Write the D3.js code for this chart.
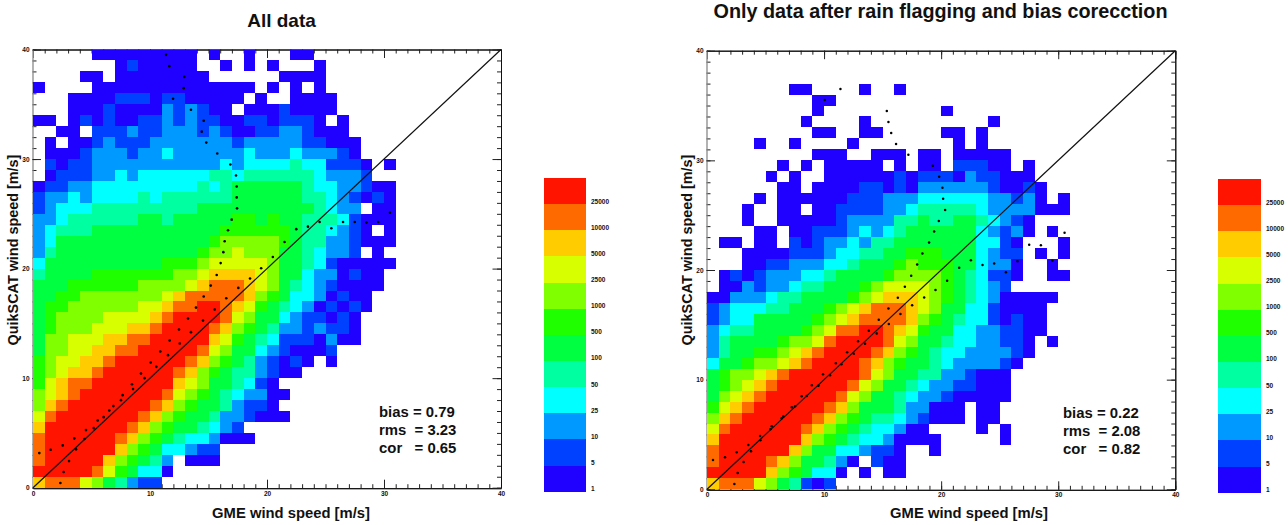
<!DOCTYPE html>
<html>
<head>
<meta charset="utf-8">
<script src="https://cdn.jsdelivr.net/npm/d3@7"></script>
<style>
body{margin:0;background:#fff;}
svg{display:block;}
text{font-family:"Liberation Sans",Arial,sans-serif;fill:#111;}
</style>
</head>
<body>
<div id="chart"></div>
<script>
// colour classes: lower bound of each class, and its colour
var classFloors=[1,5,10,25,50,100,500,1000,2500,5000,10000,25000];
var classColors=["#2000ff","#0040ff","#0099ff","#00ffff","#00ffa0","#00ff40","#20ff00","#80ff00","#d8ff00","#ffcc00","#ff6a00","#ff1400"];

// histogram rows, top row (39-40 m/s) first, one digit per 1 m/s GME bin
// digit = class index +1 (0 empty, a=10, b=11, c=12), blanks only for reading
var allRows=[
"00000 111111111 0 1 00 1 000 11",
"0000000 1 2 11111 00 1 0 1 0 1 000 1",
"0000 11 0 11111111 000000 1111",
"1 0000 11111111111111 0 1 0 1 0 1",
"000 1111 222 1 22 11111 0 1 00 1111",
"000 111 2 1111 3 2 3 2 11 0 111 2 1111",
"11 0 1 2 1 2 11 22 3 2 3 22 11 22 1 222 1 0 1",
"00 11 0 222 3 22 333 2 3 2 11 22 33 2 111",
"0 1 0 11 2 3 222 3333333 2 33333 22 111",
"0 111 2 333 2 33 4 333333 4 333 4 333 2 1",
"0 2 1 22 33333333333 4 3 4444 5 44 222 1 0 1",
"0 1 222 33 4 3 444444 55 4 555555 4 333 2",
"1 22 33 444444444 5 4 5 666666 5 44 33 2 11",
"2 33 4 3 4444 5 4 555555 666666 55 4 3 2 1 2 1",
"2 3 444 555555555 6666666666 5 4 33 0 11",
"33 4 555555 66 5 66666 77 6 7 66 555 4 2 111",
"3 4 555 66666666666 777777 6 55 4 3 2 1 0 1",
"3 4 6666666666666 7 88888 7 6 55 33 2 111",
"3 5 666666666666 7 88 9 888 66 5 4 33 2 0 1",
"4 6666666666 777 8 99999 8 66 5 4 2 11111",
"5 6666 7777777 88 9 aaaa 9 8 66 4 33 1 2 11",
"666 777777 8888 9 a bbb a 9 8 6 5 4 3 2 1111",
"66 77 8888888 9 a bbbbb a 8 7 6 44 3 1 2 11",
"6 77 888888 99 a bb cc b a 9 7 6 5 4 3 1 2 1 2 1",
"6 7 8888 9999 a b cccc b 9 8 66 4 3 22 1 2 1",
"6 7 888 999 aa b cccc b a 8 7 6 5 33 2 3 22 1",
"6 88 999 aa bb ccccc a 9 7 6 5 4 222 1 3 11",
"6 88 99 aa bb ccccc b 9 8 66 4 3 2 111 2",
"7 8 99 aa b cccccc b a 8 7 6 5 3 2 1 2 1 0 1",
"7 8 9 aa b cccccc b a 8 7 6 55 3 2 11",
"7 9 a bb ccccccc a 9 8 66 5 4 2 1",
"8 9 a b ccccccc b 9 8 7 6 5 4 33 11",
"8 a b ccccccc b a 8 7 66 5 3 22 1",
"9 b ccccccc b a 8 7 66 5 33 2 111",
"a ccccccc b a 8 7 66 5 4 3 2",
"b cccccc b a 8 7 6 5 44 3 111",
"b cccccc a 8 7 6 44 3 22",
"b ccccc a 8 7 6 5 3 0 111",
"ccccc b 9 7 6 44 1",
"a bbb 9 8 6 5 3 22"
];

var flaggedRows=[
"",
"",
"",
"0000000 11 0000 1 00 1",
"000000000 11",
"000000000 1 0000000000 1",
"00000000 1 0000 1 0000000000 1",
"000000000 11 00 11 00000 11 0 1",
"0000 1 00 1 0000 1 00000000 1 0 1",
"000000000 111 00 111 0 11 0 11111",
"000000 1 0 1 0 11111 0 1 0 11 0 222 11 0 1",
"00000 1 0 1 00 111111 2 1 222 1 3 22 111",
"000000 11 0 1111 22 1 2 1 333333 2 11 2 1",
"0000 1 0 111111 222 333 444444 33 2 3 1 0 1",
"000 1 00 11 0 11 2222 33 4 55555 4 3333 111",
"000 1 00 11111 2 3333 55 6 55 66 5 4 3 2 1",
"0000 11 0 11 222 3 4 3 4 5 666666 4 3 2 3 1 0 1",
"0 11 0 11 0 2 1 2 33 4 3 55 6666666 44 2 1 000 1",
"000 1111 222 3 44 55 66 777 666 4 3 22 0 1 0 1",
"000 11 22 333 44 5 666 7 8 777 66 4 33 1 00 1",
"0 1 2 1 2 333 44 5 6666 7 8888 7 6 5 4 22 1 00 11",
"0 11 3 2 33 4 55 666 7 8 9999 8 7 6 5 4 3 2",
"11 333 4 55 6666 7 8 9 aaa 9 8 7 6 5 4 3 11111",
"2 3 444 55 666 7 8 9 a bbb a 9 8 66 44 2 1111",
"2 3 44 66666 7 8 9 a bbbb a 8 7 6 5 44 2 1 2 11",
"3 4 55 6666 7 8 9 bb cc b a 9 7 66 44 33 22 11",
"3 5 6666 7 88 9 b cccc b 9 8 66 5 44 33 22 1 0 1",
"3 5 66 77 8 9 a b cccc b a 8 7 6 5 44 3333 2 1",
"4 66 7 88 9 a b cccc b a 8 7 66 5 4 3333 2 1",
"6 7 88 9 a b cccccc b 9 8 66 55 33 2 111",
"6 7 8 9 a b cccccc b 9 8 66 5 4 33 22 111",
"6 8 9 a b cccccc b 9 8 66 5 4 33 2 11111",
"7 9 a b cccccc b a 8 666 5 33 111 0 11",
"8 a b cccccc b a 8 7 6 55 4 3 2 111 0 11",
"9 b cccccc b a 8 7 6 5 44 3 11 0000 1 0 1",
"a ccccccc a 8 7 6 5 44 3 1111 00000 1",
"b cccccc a 8 66 44 3 22 1 00 1",
"b cccc b a 8 66 5 3 1 0 2 11",
"ccccc a 8 7 6 44 1 0 1 0 11",
"a bbb 9 8 6 5 2 1 2"
];

// mean points, [GME, QuikSCAT]
var allMeans=[[11.37,39.51],[11.65,38.48],[12.93,37.5],[12.88,36.47],[11.97,35.5],[13.5,34.5],[14.59,33.5],[14.42,32.5],[14.81,31.5],[15.75,30.5],[16.87,29.5],[17.35,28.5],[17.41,27.5],[17.41,26.5],[17.44,25.5],[16.98,24.47],[16.67,23.5],[16.38,22.5],[16.27,21.5],[16.04,20.5],[30.51,25.1],[29.5,24.25],[28.5,24.2],[27.5,24.25],[26.5,24.25],[25.5,23.68],[24.5,24.25],[23.5,23.83],[22.5,23.6],[21.5,22.43],[20.5,21.06],[19.5,20.03],[15.7,19.42],[18.55,19.09],[15.19,18.45],[17.55,18.24],[14.59,17.45],[16.52,17.29],[13.93,16.44],[15.53,16.26],[13.25,15.44],[14.53,15.26],[12.48,14.44],[13.5,14.2],[11.68,13.43],[12.54,13.16],[10.88,12.43],[11.54,12.1],[10.06,11.43],[10.54,11.03],[9.23,10.43],[9.54,10.0],[8.46,9.45],[8.55,9.0],[7.66,8.45],[7.52,7.99],[6.87,7.45],[6.52,7.05],[6.04,6.44],[5.53,6.14],[4.53,5.26],[5.19,5.44],[3.53,4.5],[4.39,4.44],[2.54,3.86],[3.68,3.5],[1.51,3.47],[0.54,3.16],[3.08,2.43],[2.62,1.43],[2.34,0.43]];
var flaggedMeans=[[11.4,36.5],[10.06,35.5],[15.36,34.5],[15.5,33.5],[15.73,32.5],[16.15,31.5],[17.2,30.5],[19.29,29.5],[19.83,28.5],[20.11,27.5],[20.17,26.5],[20.34,25.47],[19.8,24.47],[19.4,23.5],[18.97,22.5],[18.4,21.5],[17.95,20.5],[30.54,23.4],[28.52,22.25],[27.52,22.3],[29.5,20.85],[26.52,20.8],[25.53,19.8],[24.53,20.6],[23.53,20.46],[22.54,20.9],[21.54,20.2],[20.51,19.03],[19.52,18.18],[17.44,19.48],[16.9,18.48],[18.55,17.5],[16.3,17.48],[17.52,16.78],[15.5,16.5],[16.52,15.99],[14.67,15.47],[15.53,15.08],[13.82,14.47],[14.5,14.22],[12.9,13.5],[13.5,13.28],[11.97,12.49],[12.54,12.37],[11.0,11.49],[11.48,11.4],[9.91,10.49],[10.51,10.4],[8.95,9.48],[9.52,9.45],[8.09,8.48],[8.52,8.51],[7.24,7.48],[7.52,7.57],[6.38,6.47],[6.52,6.63],[5.53,5.74],[5.41,5.47],[4.53,4.86],[4.56,4.47],[3.53,4.04],[3.76,3.47],[2.54,3.37],[1.54,2.92],[0.51,2.67],[3.13,2.49],[2.62,1.49],[2.34,0.49]];

var allStats=["bias = 0.79","rms  = 3.23","cor   = 0.65"];
var flaggedStats=["bias = 0.22","rms  = 2.08","cor   = 0.82"];

var majorTicks=d3.range(0,41,10);
var minorTicks=d3.range(0,41,1);

var canvas=d3.select("#chart").append("svg")
  .attr("width",1288)
  .attr("height",525);

var color=d3.scaleThreshold()
  .domain(classFloors)
  .range(["#ffffff"].concat(classColors));

function readRows(rows){
  var cells=[];
  rows.forEach(function(row,i){
    row.replace(/ /g,"").split("").forEach(function(ch,c){
      var idx=parseInt(ch,16);
      if(idx>0) cells.push({gme:c, scat:39-i, count:classFloors[idx-1]});
    });
  });
  return cells;
}

function drawPanel(p){
  var xScale=d3.scaleLinear().domain([0,40]).range([p.x0,p.x1]);
  var yScale=d3.scaleLinear().domain([0,40]).range([p.y0,p.y1]);
  var g=canvas.append("g");

  /*axes first: the cells cover the ticks. Ticks point inwards on all four sides*/
  function addAxis(axis,tx,ty,labelled,spine){
    var w=g.append("g").attr("transform","translate("+tx+","+ty+")");
    w.call(axis.tickValues(minorTicks).tickSize(-4).tickSizeOuter(0).tickFormat(""));
    var m=g.append("g").attr("transform","translate("+tx+","+ty+")");
    m.call(axis.tickValues(majorTicks).tickSize(-8.5).tickSizeOuter(0).tickPadding(labelled?3:0).tickFormat(labelled?d3.format("d"):""));
    m.selectAll("text").style("font-size","6.5px").style("font-family","'Liberation Sans'").style("font-weight","bold");
    w.select(".domain").attr("stroke",spine);
    m.select(".domain").attr("stroke",spine);
    g.selectAll(".tick line").attr("stroke","#222");
  }
  addAxis(d3.axisBottom(xScale),0,p.y0+0.5,true,"#111");
  addAxis(d3.axisTop(xScale),0,p.y1,false,"#111");
  addAxis(d3.axisLeft(yScale),p.x0-0.5,0,true,"#999");
  addAxis(d3.axisRight(yScale),p.x1,0,false,"#111");

  /*histogram cells*/
  g.append("g").selectAll("rect")
    .data(readRows(p.rows))
    .join("rect")
    .attr("x",function(d){return xScale(d.gme);})
    .attr("y",function(d){return yScale(d.scat+1);})
    .attr("width",xScale(1)-xScale(0))
    .attr("height",yScale(0)-yScale(1))
    .attr("fill",function(d){return color(d.count);})
    .attr("shape-rendering","crispEdges");

  /*one to one line*/
  var diag=d3.line()
    .x(function(d){return xScale(d);})
    .y(function(d){return yScale(d);});
  g.append("path")
    .attr("d",diag([0,40]))
    .attr("fill","none")
    .attr("stroke","#111")
    .attr("stroke-width",1.2);

  /*means*/
  g.append("g").selectAll("circle")
    .data(p.means)
    .join("circle")
    .attr("cx",function(d){return xScale(d[0]);})
    .attr("cy",function(d){return yScale(d[1]);})
    .attr("r",p.dot)
    .attr("fill","#000");

  /*titles*/
  g.append("text")
    .text(p.title)
    .attr("x",p.titleX)
    .attr("y",p.titleY)
    .attr("text-anchor","middle")
    .style("font-size",p.titleSize+"px")
    .style("font-weight","bold");
  g.append("text")
    .text("GME wind speed [m/s]")
    .attr("x",p.xLabelX)
    .attr("y",518)
    .attr("text-anchor","middle")
    .style("font-size","14.8px")
    .style("font-weight","bold");
  g.append("text")
    .text("QuikSCAT wind speed [m/s]")
    .attr("transform","translate("+(p.x0-15.5)+",250) rotate(-90)")
    .attr("text-anchor","middle")
    .style("font-size","14.4px")
    .style("font-weight","bold");

  /*statistics*/
  g.selectAll("text.stat")
    .data(p.stats)
    .join("text")
    .attr("class","stat")
    .text(function(d){return d;})
    .attr("x",p.statX)
    .attr("y",function(d,i){return p.statY+i*18;})
    .style("white-space","pre")
    .style("font-size","14.9px")
    .style("font-weight","bold");

  /*colour key*/
  var key=d3.scaleBand()
    .domain(d3.range(classFloors.length))
    .range([p.keyBottom,p.keyTop]);
  var kg=g.append("g");
  kg.selectAll("rect")
    .data(classFloors)
    .join("rect")
    .attr("x",p.keyX)
    .attr("y",function(d,i){return key(i);})
    .attr("width",p.keyW)
    .attr("height",key.bandwidth())
    .attr("fill",function(d){return color(d);})
    .attr("shape-rendering","crispEdges");
  kg.selectAll("text")
    .data(classFloors)
    .join("text")
    .text(function(d){return d;})
    .attr("x",p.keyX+p.keyW+5)
    .attr("y",function(d,i){return key(i)+key.bandwidth()-0.5;})
    .style("font-size","6.5px")
    .style("font-weight","bold");
}

drawPanel({rows:allRows, means:allMeans, stats:allStats, title:"All data",
  x0:33, x1:501, y0:487.7, y1:49.5, dot:1.3,
  titleX:281.5, titleY:27, titleSize:19, xLabelX:291,
  statX:379, statY:417,
  keyX:544, keyW:42, keyTop:178, keyBottom:491.7});

drawPanel({rows:flaggedRows, means:flaggedMeans, stats:flaggedStats, title:"Only data after rain flagging and bias corecction",
  x0:707, x1:1175.3, y0:489.3, y1:50.7, dot:1.25,
  titleX:940.5, titleY:18, titleSize:19.8, xLabelX:969,
  statX:1063, statY:418,
  keyX:1218, keyW:43, keyTop:179, keyBottom:492.7});
</script>
</body>
</html>
